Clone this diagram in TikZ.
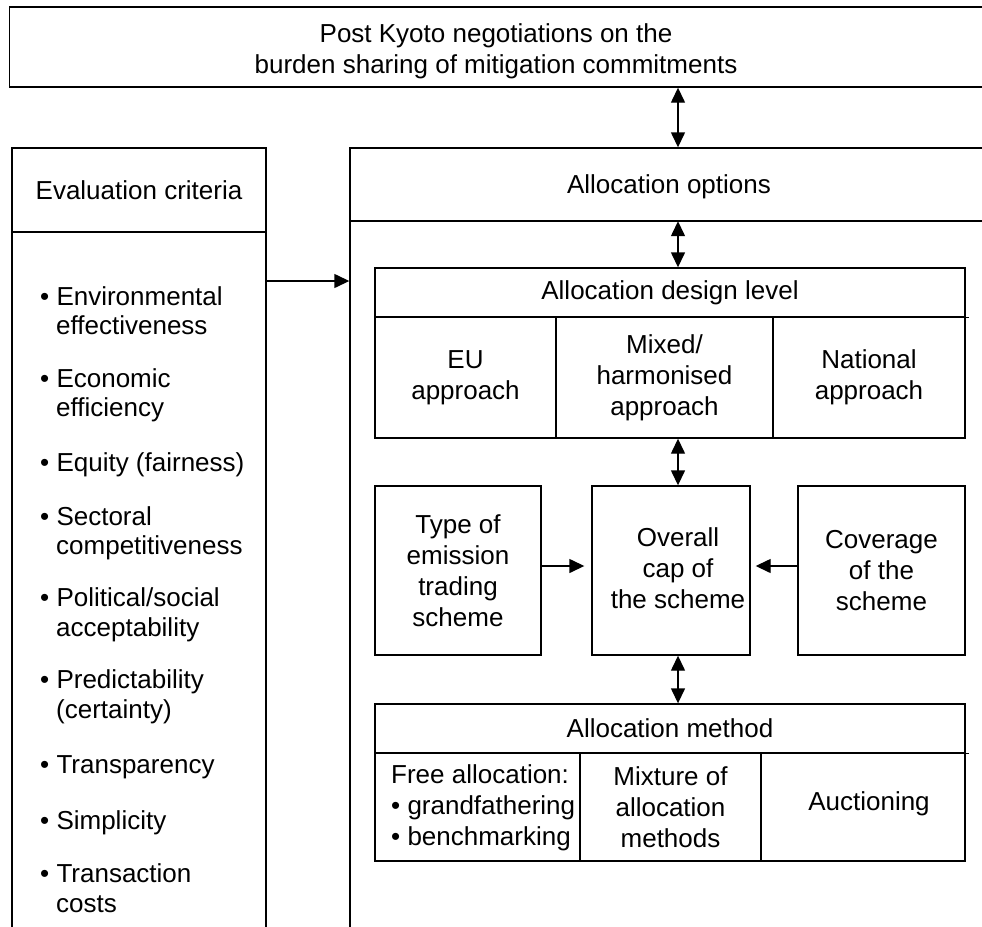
\documentclass[tikz,border=0pt]{standalone}
\usepackage{fontspec}
\setmainfont{Liberation Sans}
\usetikzlibrary{arrows.meta}
\newcommand\dgfont{\fontsize{26}{31}\selectfont}
\begin{document}
\begin{tikzpicture}[x=1pt,y=-1pt,
  box/.style={draw, line width=1.4pt, inner sep=0pt, align=center, font=\dgfont},
  txt/.style={inner sep=0pt, align=center, font=\dgfont},
  crit/.style={inner sep=0pt, anchor=base west, font=\dgfont},
  arr/.style={line width=1.4pt, -{Triangle[length=15pt,width=14pt]}},
  dbl/.style={line width=1.4pt, {Triangle[length=15pt,width=14pt]}-{Triangle[length=15pt,width=14pt]}},
]
\useasboundingbox (0,0) rectangle (982,926);
\clip (0,0) rectangle (982,926);

% top box
\node[box, minimum width=974.5pt, minimum height=80pt] (top) at (496.75,47) {};
\node[txt] (toptext) at (496,51) {Post Kyoto negotiations on the\\burden sharing of mitigation commitments};

% evaluation criteria column
\node[box, minimum width=254pt, minimum height=84pt] (evalhead) at (139,190) {Evaluation criteria};
\node[box, minimum width=254pt, minimum height=720pt, anchor=north] (evalbody) at (139,232) {};

% allocation options column
\node[box, minimum width=640pt, minimum height=72.5pt] (opthead) at (670,184.25) {};
\node[txt] (opttext) at (669,187) {Allocation options};
\node[box, minimum width=640pt, minimum height=720pt, anchor=north] (optbody) at (670,220.5) {};

% allocation design level
\node[box, minimum width=590pt, minimum height=49pt] (dhead) at (670,292.5) {Allocation design level};
\node[box, minimum width=181pt, minimum height=121pt] (eu) at (465.5,377.5) {EU\\approach};
\node[box, minimum width=217pt, minimum height=121pt] (mixed) at (664.5,377.5) {Mixed/\\harmonised\\approach};
\node[box, minimum width=192pt, minimum height=121pt] (nat) at (869,377.5) {National\\approach};
\draw[line width=1.4pt] (dhead.south east) -- ++(3,0);

% middle row
\node[box, minimum width=166pt, minimum height=169pt] (type) at (458,570.5) {Type of\\emission\\trading\\scheme};
\node[box, minimum width=158pt, minimum height=169pt] (cap) at (671,570.5) {};
\node[txt] (captext) at (678,568) {Overall\\cap of\\the scheme};
\node[box, minimum width=167pt, minimum height=169pt] (cov) at (881.5,570.5) {Coverage\\of the\\scheme};

% allocation method
\node[box, minimum width=590pt, minimum height=49pt] (mhead) at (670,728.5) {Allocation method};
\node[box, minimum width=205pt, minimum height=108pt] (free) at (477.5,807) {};
\node[txt, align=left, anchor=west] (freetext) at (391,808) {Free allocation:\\• grandfathering\\• benchmarking};
\node[box, minimum width=181pt, minimum height=108pt] (mix) at (670.5,807) {Mixture of\\allocation\\methods};
\node[box, minimum width=204pt, minimum height=108pt] (auc) at (863,807) {};
\node[txt] (auctext) at (869,804) {Auctioning};
\draw[line width=1.4pt] (mhead.south east) -- ++(3,0);

% connectors
\draw[dbl] (top.south -| captext) -- (opthead.north -| captext);
\draw[dbl] (opthead.south -| captext) -- (dhead.north -| captext);
\draw[dbl] (mixed.south -| captext) -- (cap.north -| captext);
\draw[dbl] (cap.south -| captext) -- (mhead.north -| captext);
\draw[arr] ([yshift=-49pt]evalbody.north east) -- ([yshift=-49pt]evalbody.north east -| optbody.west);
\draw[arr] ([yshift=4.5pt]type.east) -- ([xshift=-7pt,yshift=4.5pt]cap.west);
\draw[arr] ([yshift=4.5pt]cov.west) -- ([xshift=5pt,yshift=4.5pt]cap.east);

% criteria list
\node[crit] (c1) at (40,305) {• Environmental};
\node[crit] (c1b) at (56,334) {effectiveness};
\node[crit] (c2) at (40,387) {• Economic};
\node[crit] (c2b) at (56,416) {efficiency};
\node[crit] (c3) at (40,471) {• Equity (fairness)};
\node[crit] (c4) at (40,525) {• Sectoral};
\node[crit] (c4b) at (56,554) {competitiveness};
\node[crit] (c5) at (40,606) {• Political/social};
\node[crit] (c5b) at (56,636) {acceptability};
\node[crit] (c6) at (40,688) {• Predictability};
\node[crit] (c6b) at (56,718) {(certainty)};
\node[crit] (c7) at (40,773) {• Transparency};
\node[crit] (c8) at (40,829) {• Simplicity};
\node[crit] (c9) at (40,882) {• Transaction};
\node[crit] (c9b) at (56,912) {costs};
\end{tikzpicture}
\end{document}
